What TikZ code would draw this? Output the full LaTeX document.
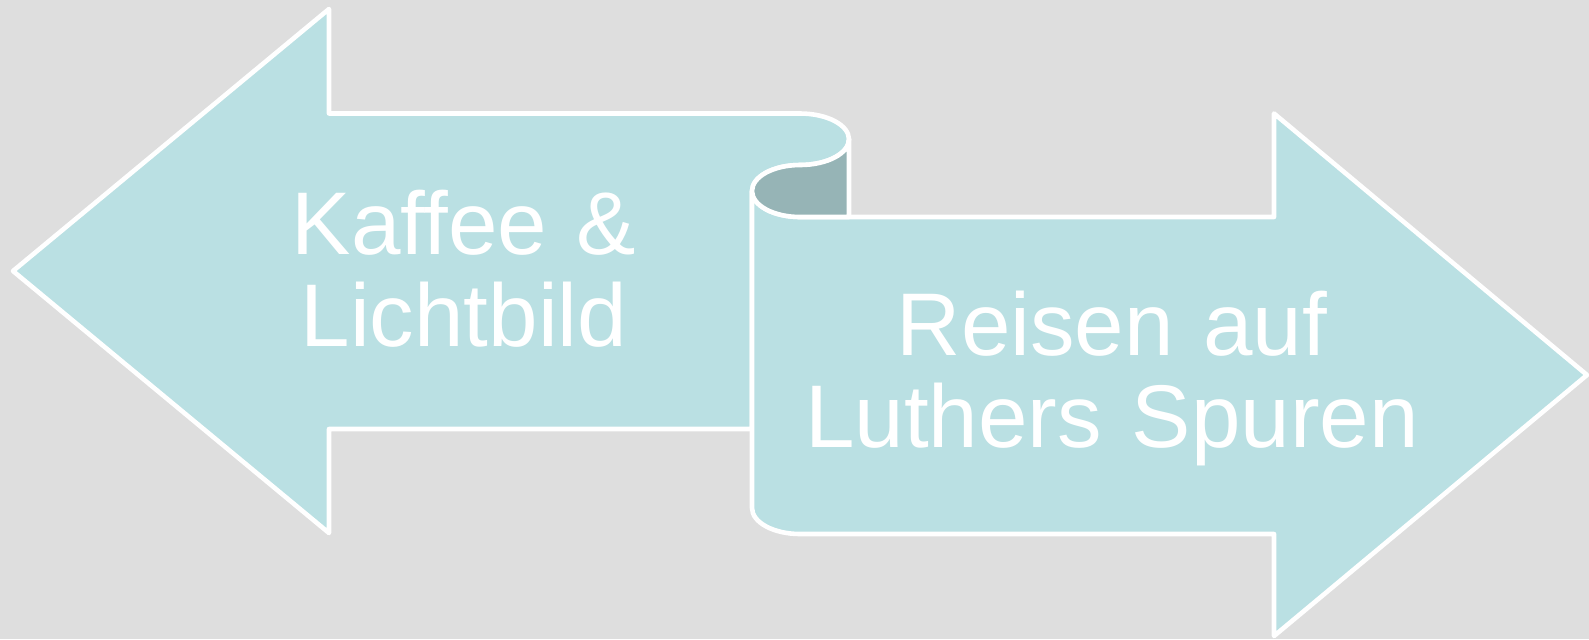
\documentclass[tikz,border=0pt]{standalone}
\usepackage{fontspec}
\setmainfont{Liberation Sans}
\definecolor{bg}{HTML}{DEDEDE}
\definecolor{arrowfill}{HTML}{BAE0E3}
\definecolor{rolldark}{HTML}{96B4B6}
\begin{document}
\begin{tikzpicture}[x=0.5pt,y=-0.5pt,
  arrowshape/.style={fill=arrowfill,draw=white,line width=2.3pt,line join=round},
  rollshape/.style={fill=rolldark,draw=white,line width=2.3pt,line join=round},
  txt/.style={text=white,inner sep=0pt,align=center,anchor=base,
    font=\fontsize{44.5pt}{46pt}\selectfont}]
\path[use as bounding box,fill=bg] (0,0) rectangle (1589,639);
% left arrow
\path[arrowshape] (13,271) -- (329,9) -- (329,113.5) -- (800,113.5)
  arc[start angle=-90,end angle=90,x radius=49,y radius=25.75]
  arc[start angle=-90,end angle=-180,x radius=48,y radius=26]
  -- (752,429) -- (329,429) -- (329,533) -- cycle;
% right arrow
\path[arrowshape] (752,191) -- (752,508)
  arc[start angle=180,end angle=90,x radius=48,y radius=26]
  -- (1274,534) -- (1274,636) -- (1587,375) -- (1274,113.5) -- (1274,217) -- (800,217)
  arc[start angle=90,end angle=180,x radius=48,y radius=26] -- cycle;
% rolled part
\path[rollshape] (849,139.25)
  arc[start angle=0,end angle=90,x radius=49,y radius=25.75]
  arc[start angle=-90,end angle=-270,x radius=48,y radius=26]
  -- (849,217) -- cycle;
\node[txt,text width=200pt] (kaffee) at (464,254) {Kaffee \&\\Lichtbild};
\node[txt,text width=340pt] (reisen) at (1112,355) {Reisen auf\\Luthers Spuren};
\end{tikzpicture}
\end{document}
